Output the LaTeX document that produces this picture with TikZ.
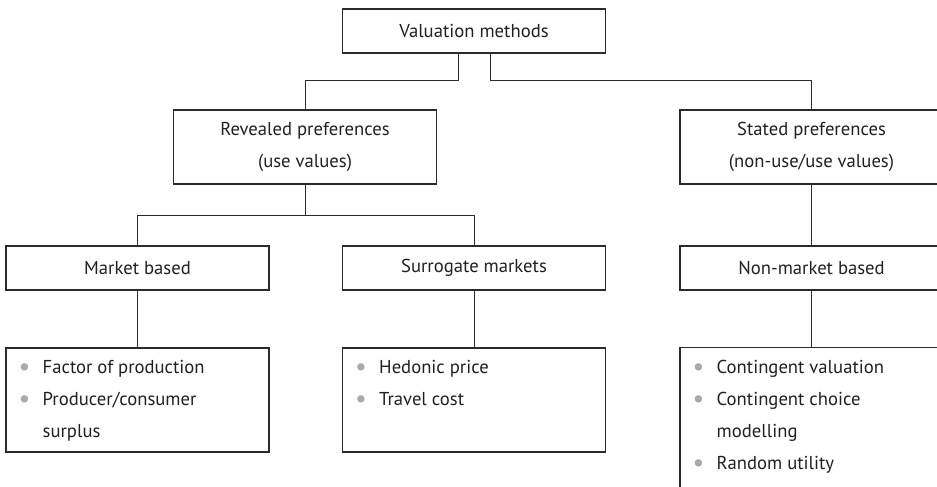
\documentclass[tikz,border=0pt]{standalone}
\usepackage{fontspec}
\setmainfont{PT Sans}
\usetikzlibrary{positioning}
\definecolor{inkline}{HTML}{2B2B2B}
\definecolor{inktext}{HTML}{231F20}
\definecolor{dotgray}{HTML}{A7A9AC}
\newcommand{\bul}{\makebox[18pt][l]{\raisebox{-0.1em}{\textcolor{dotgray}{\scalebox{1.4}{•}}}}}

\begin{document}
\begin{tikzpicture}[
  x=0.75pt,y=-0.75pt,
  font=\fontsize{14}{24}\selectfont,text=inktext,
  box/.style={draw=inkline,line width=1.1pt,minimum width=197pt,minimum height=33pt,inner sep=0pt,align=center},
  items/.style={anchor=north west,inner sep=0pt,align=left},
  link/.style={draw=inkline,line width=0.75pt}
]
\clip (0,0) rectangle (937,486);

\node[box] (val) at (474,31) {Valuation methods};
\node[box,minimum height=55.5pt] (rev) at (305,147) {Revealed preferences\\(use values)};
\node[box,minimum height=55.5pt] (sta) at (811.5,147) {Stated preferences\\(non-use/use values)};

\node[box] (mkt) at (137.5,268) {Market based};
\node[box] (sur) at (474,268) {Surrogate markets};
\node[box] (non) at (811.5,268) {Non-market based};

\node[box,minimum height=78pt] (mktlist) at (137.5,400) {};
\node[box,minimum height=78pt] (surlist) at (474,400) {};
\node[box,minimum height=122pt] (nonlist) at (811.5,429) {};

\node[items] (mktitems) at ([shift={(13,13)}]mktlist.north west)
  {\bul Factor of production\\\bul Producer/consumer\\\hspace*{18pt}surplus};
\node[items] (suritems) at ([shift={(13,13)}]surlist.north west)
  {\bul Hedonic price\\\bul Travel cost};
\node[items] (nonitems) at ([shift={(13,13)}]nonlist.north west)
  {\bul Contingent valuation\\\bul Contingent choice\\\hspace*{18pt}modelling\\\bul Random utility};

\draw[link] ([xshift=-12pt]val.south) -- ++(0,27) -| (rev.north);
\draw[link] ([xshift=12pt]val.south) -- ++(0,27) -| (sta.north);
\draw[link] (rev.south) -- ++(0,31) coordinate (split);
\draw[link] (mkt.north) |- (split) -| (sur.north);
\draw[link] (sta.south) -- (non.north);
\draw[link] (mkt.south) -- (mktlist.north);
\draw[link] (sur.south) -- (surlist.north);
\draw[link] (non.south) -- (nonlist.north);
\end{tikzpicture}
\end{document}
